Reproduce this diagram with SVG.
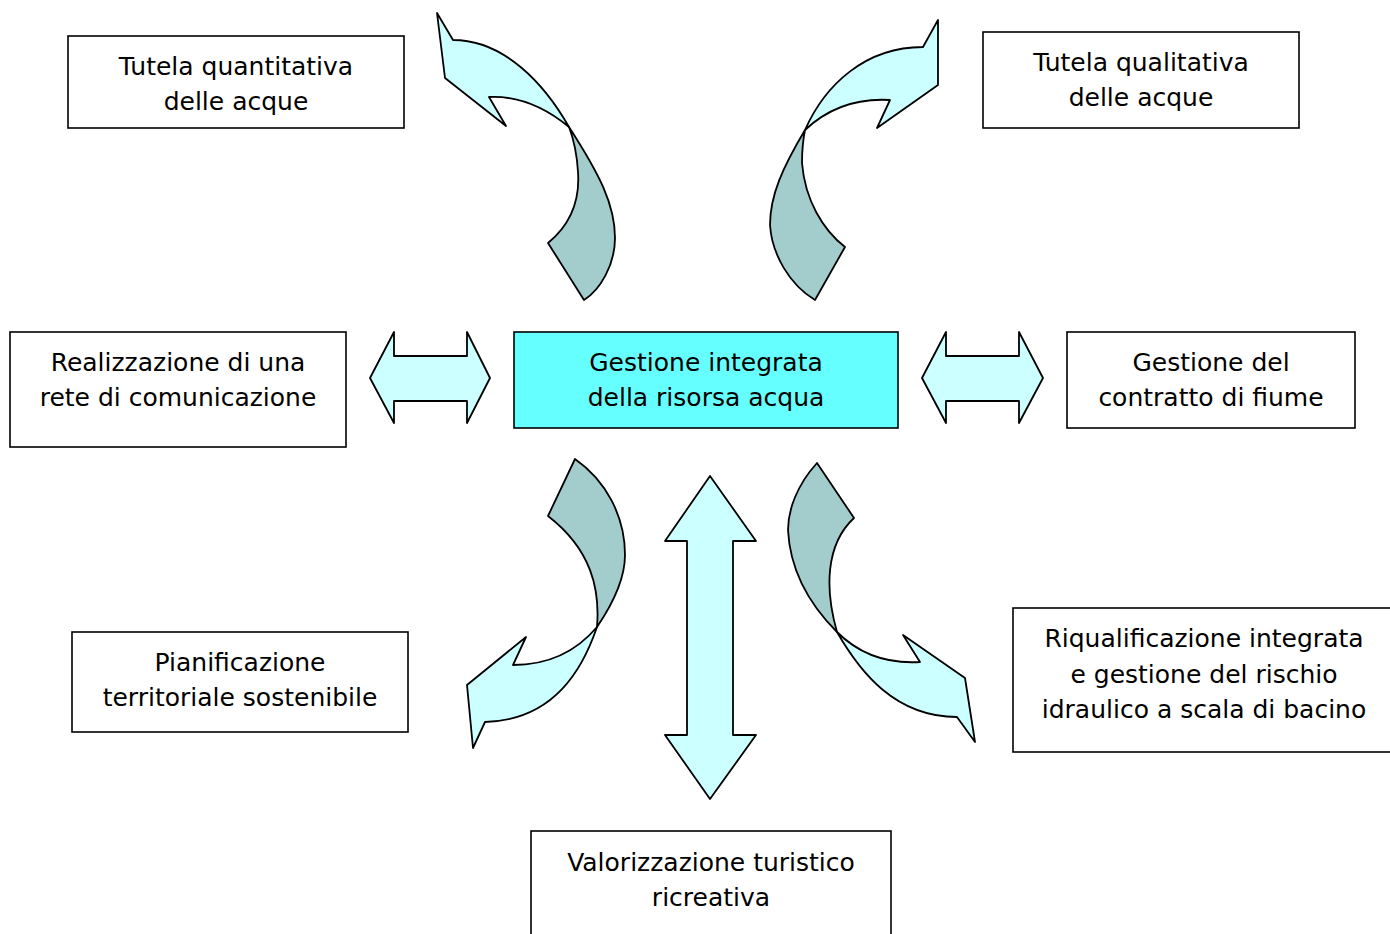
<svg xmlns="http://www.w3.org/2000/svg" width="1390" height="934" viewBox="0 0 1390 934">
<style>
.box{fill:#fff;stroke:#000;stroke-width:1.6}
.center{fill:#66FFFF;stroke:#000;stroke-width:1.6}
.lt{fill:#CCFFFF;stroke:#000;stroke-width:1.8;stroke-linejoin:round}
.dk{fill:#A3CDCC;stroke:#000;stroke-width:1.8;stroke-linejoin:round}
text{font-family:"DejaVu Sans",Verdana,sans-serif;font-size:25px;fill:#000;text-anchor:middle}
</style>
<rect width="1390" height="934" fill="#fff"/>
<g id="connectors">
  <g id="arrow-tl">
    <path class="dk" d="M569,127 C600,175 615,205 615,238 C615,265 600,290 584,300 L548,243 C570,225 580,200 578,172 C577,155 574,140 569,127 Z"/>
    <path class="lt" d="M569,127 C545,85 505,40 453,40 L437,13 L445,78 L506,126 L489,97 Q530,95 569,127 Z"/>
  </g>
  <g id="arrow-tr">
    <path class="dk" d="M805,130 C783,167 770,195 770,225 C772,255 790,285 815,300 L845,247 C823,230 805,200 802,163 C802,150 803,140 805,130 Z"/>
    <path class="lt" d="M805,130 C825,85 865,47 923,47 L938,20 L938,85 L877,128 L890,100 Q840,97 805,130 Z"/>
  </g>
  <g id="arrow-bl">
    <path class="dk" d="M575,459 C605,480 625,515 625,555 C625,580 612,605 597,627 C600,590 592,550 548,516 Z"/>
    <path class="lt" d="M597,627 C583,668 555,720 485,722 L473,748 L467,685 L526,637 L513,665 Q565,665 597,627 Z"/>
  </g>
  <g id="arrow-br">
    <path class="dk" d="M817,463 C797,485 788,510 788,530 C790,570 810,605 837,632 C825,590 825,545 854,518 Z"/>
    <path class="lt" d="M837,632 C860,672 895,717 957,717 L975,742 L965,678 L903,635 L920,662 Q870,665 837,632 Z"/>
  </g>
  <path id="arrow-left" class="lt" d="M370,378 L394,332 L394,356 L467,356 L467,332 L490,378 L467,423 L467,401 L394,401 L394,423 Z"/>
  <path id="arrow-right" class="lt" d="M922,378 L946,332 L946,356 L1019,356 L1019,332 L1043,378 L1019,423 L1019,401 L946,401 L946,423 Z"/>
  <path id="arrow-down" class="lt" d="M710,476 L756,541 L733,541 L733,735 L756,735 L710,799 L665,735 L687,735 L687,541 L665,541 Z"/>
</g>
<g id="node-quantitativa">
  <rect class="box" x="68" y="36" width="336" height="92"/>
  <text x="236" y="75">Tutela quantitativa</text>
  <text x="236" y="110">delle acque</text>
</g>
<g id="node-qualitativa">
  <rect class="box" x="983" y="32" width="316" height="96"/>
  <text x="1141" y="71">Tutela qualitativa</text>
  <text x="1141" y="106">delle acque</text>
</g>
<g id="node-rete">
  <rect class="box" x="10" y="332" width="336" height="115"/>
  <text x="178" y="371">Realizzazione di una</text>
  <text x="178" y="406">rete di comunicazione</text>
</g>
<g id="node-centro">
  <rect class="center" x="514" y="332" width="384" height="96"/>
  <text x="706" y="371">Gestione integrata</text>
  <text x="706" y="406">della risorsa acqua</text>
</g>
<g id="node-contratto">
  <rect class="box" x="1067" y="332" width="288" height="96"/>
  <text x="1211" y="371">Gestione del</text>
  <text x="1211" y="406">contratto di fiume</text>
</g>
<g id="node-pianificazione">
  <rect class="box" x="72" y="632" width="336" height="100"/>
  <text x="240" y="671">Pianificazione</text>
  <text x="240" y="706">territoriale sostenibile</text>
</g>
<g id="node-riqualificazione">
  <rect class="box" x="1013" y="608" width="390" height="144"/>
  <text x="1204" y="647">Riqualificazione integrata</text>
  <text x="1204" y="683">e gestione del rischio</text>
  <text x="1204" y="718">idraulico a scala di bacino</text>
</g>
<g id="node-valorizzazione">
  <rect class="box" x="531" y="831" width="360" height="120"/>
  <text x="711" y="871">Valorizzazione turistico</text>
  <text x="711" y="906">ricreativa</text>
</g>
</svg>
